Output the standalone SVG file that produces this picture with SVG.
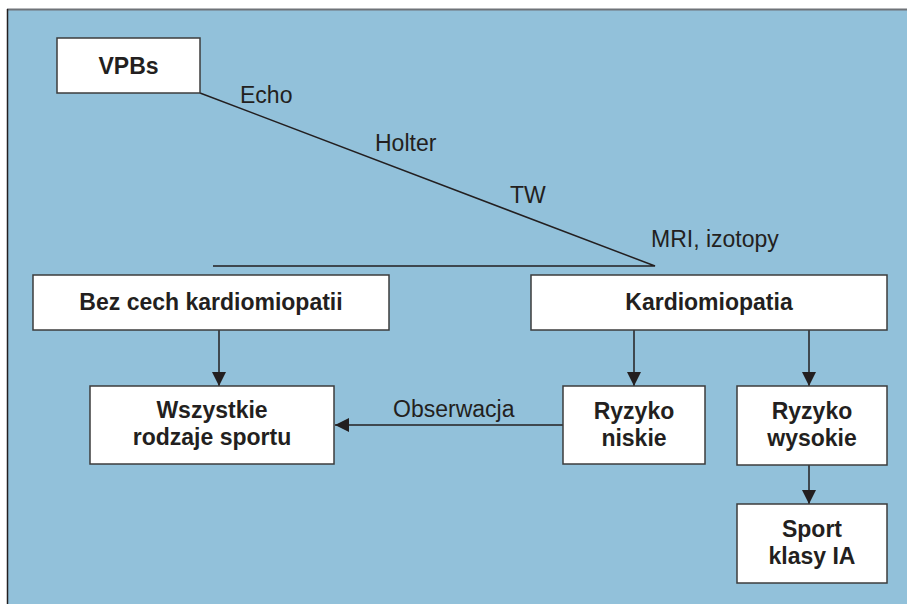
<svg xmlns="http://www.w3.org/2000/svg" width="907" height="604" viewBox="0 0 907 604">
<style>
.box{fill:#fff;stroke:#3c3c3c;stroke-width:1.5}
.t{font-family:"Liberation Sans",Arial,sans-serif;font-size:23px;fill:#231f20}
.b{font-weight:bold;text-anchor:middle}
.c{stroke:#231f20;stroke-width:1.5;fill:none}
</style>
<defs>
<marker id="ah" markerWidth="14" markerHeight="14" refX="14" refY="7" orient="auto" markerUnits="userSpaceOnUse">
<path d="M0,0 L14,7 L0,14 Z" fill="#231f20"/>
</marker>
</defs>
<rect x="0" y="0" width="907" height="604" fill="#fff"/>
<rect x="7" y="9" width="900" height="595" fill="#92c1da"/>
<line x1="7" y1="9.5" x2="907" y2="9.5" stroke="#6f7378" stroke-width="2"/>
<line x1="7.5" y1="9" x2="7.5" y2="604" stroke="#231f20" stroke-width="1.5"/>
<g id="connectors">
<polyline class="c" points="200,93 655,266 213,266"/>
<line class="c" x1="219" y1="330" x2="219" y2="386" marker-end="url(#ah)"/>
<line class="c" x1="634" y1="330" x2="634" y2="386" marker-end="url(#ah)"/>
<line class="c" x1="809" y1="330" x2="809" y2="386" marker-end="url(#ah)"/>
<line class="c" x1="809" y1="465" x2="809" y2="504" marker-end="url(#ah)"/>
<line class="c" x1="563" y1="425" x2="335" y2="425" marker-end="url(#ah)"/>
<text class="t" x="240" y="103">Echo</text>
<text class="t" x="375" y="151">Holter</text>
<text class="t" x="510" y="203">TW</text>
<text class="t" x="651" y="247">MRI, izotopy</text>
<text class="t" x="393" y="417">Obserwacja</text>
</g>
<g id="vpbs"><rect class="box" x="57" y="38" width="143" height="55"/><text class="t b" x="128.5" y="74">VPBs</text></g>
<g id="bez"><rect class="box" x="33" y="275" width="356" height="55"/><text class="t b" x="211" y="310">Bez cech kardiomiopatii</text></g>
<g id="kardio"><rect class="box" x="531" y="275" width="356" height="55"/><text class="t b" x="709" y="310">Kardiomiopatia</text></g>
<g id="wszystkie"><rect class="box" x="90" y="386" width="244" height="78"/><text class="t b" x="212" y="418">Wszystkie</text><text class="t b" x="212" y="445">rodzaje sportu</text></g>
<g id="niskie"><rect class="box" x="563" y="386" width="142" height="78"/><text class="t b" x="634" y="419">Ryzyko</text><text class="t b" x="634" y="446">niskie</text></g>
<g id="wysokie"><rect class="box" x="737" y="386" width="150" height="79"/><text class="t b" x="812" y="419">Ryzyko</text><text class="t b" x="812" y="446">wysokie</text></g>
<g id="sport"><rect class="box" x="737" y="504" width="150" height="79"/><text class="t b" x="812" y="537">Sport</text><text class="t b" x="812" y="564">klasy IA</text></g>
</svg>
